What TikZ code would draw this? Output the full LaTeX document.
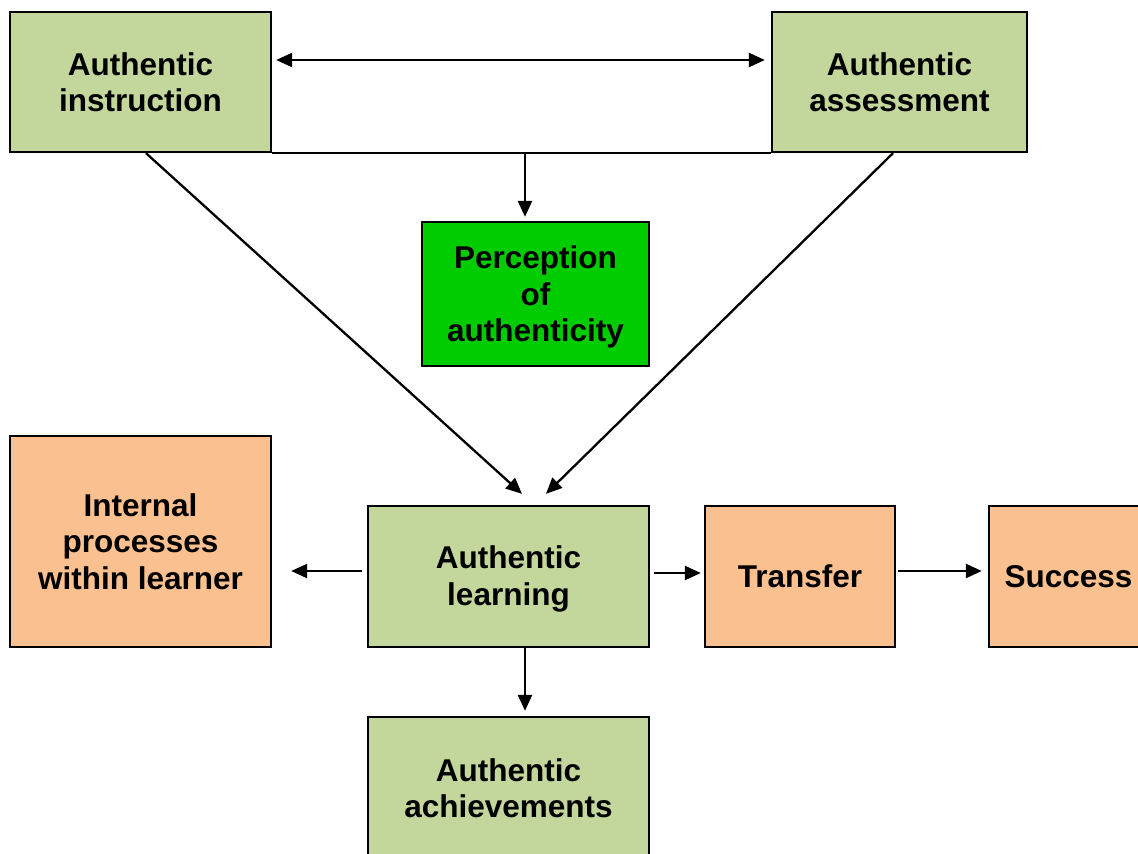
\documentclass[tikz,border=0pt]{standalone}
\usepackage{fontspec}
\setmainfont{Liberation Sans}
\usetikzlibrary{arrows.meta}
\definecolor{olivebox}{RGB}{195,214,155}
\definecolor{brightbox}{RGB}{0,204,0}
\definecolor{peachbox}{RGB}{250,192,144}
% pad the top of a text block so it sits lower inside a fixed-size box
\newcommand{\lowered}[2]{\raisebox{0pt}[\dimexpr\height+#1\relax][\depth]{\begin{tabular}{@{}c@{}}#2\end{tabular}}}
\begin{document}
\begin{tikzpicture}[x=1pt,y=-1pt,
  box/.style={draw=black,line width=2.3pt,align=center,inner sep=0pt,
    font=\fontsize{31.5}{36.5}\selectfont\bfseries},
  olive/.style={box,fill=olivebox},
  bright/.style={box,fill=brightbox},
  peach/.style={box,fill=peachbox},
  conn/.style={line width=2.3pt,-{Triangle[length=16pt,width=14pt]}},
  biconn/.style={line width=2.3pt,{Triangle[length=16pt,width=14pt]}-{Triangle[length=16pt,width=14pt]}},
]
\useasboundingbox (0,0) rectangle (1138,854);
\clip (0,0) rectangle (1138,854);

% boxes
\node[olive,minimum width=261pt,minimum height=140pt] (instr) at (140.5,82) {Authentic\\instruction};
\node[olive,minimum width=255pt,minimum height=140pt] (assess) at (899.5,82) {Authentic\\assessment};
\node[bright,minimum width=227pt,minimum height=144pt] (percep) at (535.5,294) {\lowered{8pt}{Perception\\of\\authenticity}};
\node[peach,minimum width=261pt,minimum height=211pt] (intern) at (140.5,541.5) {Internal\\processes\\within learner};
\node[olive,minimum width=281pt,minimum height=141pt] (learn) at (508.5,576.5) {\lowered{6pt}{Authentic\\learning}};
\node[peach,minimum width=190pt,minimum height=141pt] (trans) at (800,576.5) {Transfer};
\node[peach,minimum width=159pt,minimum height=141pt] (succ) at (1068.5,576.5) {Success};
\node[olive,minimum width=281pt,minimum height=142pt] (ach) at (508.5,788) {Authentic\\achievements};

% top links
\draw[biconn,shorten <=4pt,shorten >=6pt] ([yshift=22pt]instr.east) -- ([yshift=22pt]assess.west);
\draw[line width=2.3pt] (instr.south east) -- (assess.south west);
\coordinate (hub) at (525,152);
\draw[conn,shorten >=4pt] (hub) -- (hub |- percep.north);

% diagonals into learning
\draw[conn] ([xshift=5.5pt]instr.south) -- ([shift={(13.5,-11)}]learn.north);
\draw[conn] ([xshift=-6.5pt]assess.south) -- ([shift={(37.5,-11)}]learn.north);

% outgoing from learning
\draw[conn,shorten <=5pt,shorten >=19pt] ([yshift=5.5pt]learn.west) -- ([yshift=5.5pt]learn.west -| intern.east);
\draw[conn,shorten <=4pt,shorten >=3pt] ([yshift=3.5pt]learn.east) -- ([yshift=3.5pt]learn.east -| trans.west);
\draw[conn,shorten <=2pt,shorten >=6pt] ([yshift=5.5pt]trans.east) -- ([yshift=5.5pt]trans.east -| succ.west);
\draw[conn,shorten >=5pt] ([xshift=16.5pt]learn.south) -- ([xshift=16.5pt]learn.south |- ach.north);
\end{tikzpicture}
\end{document}
